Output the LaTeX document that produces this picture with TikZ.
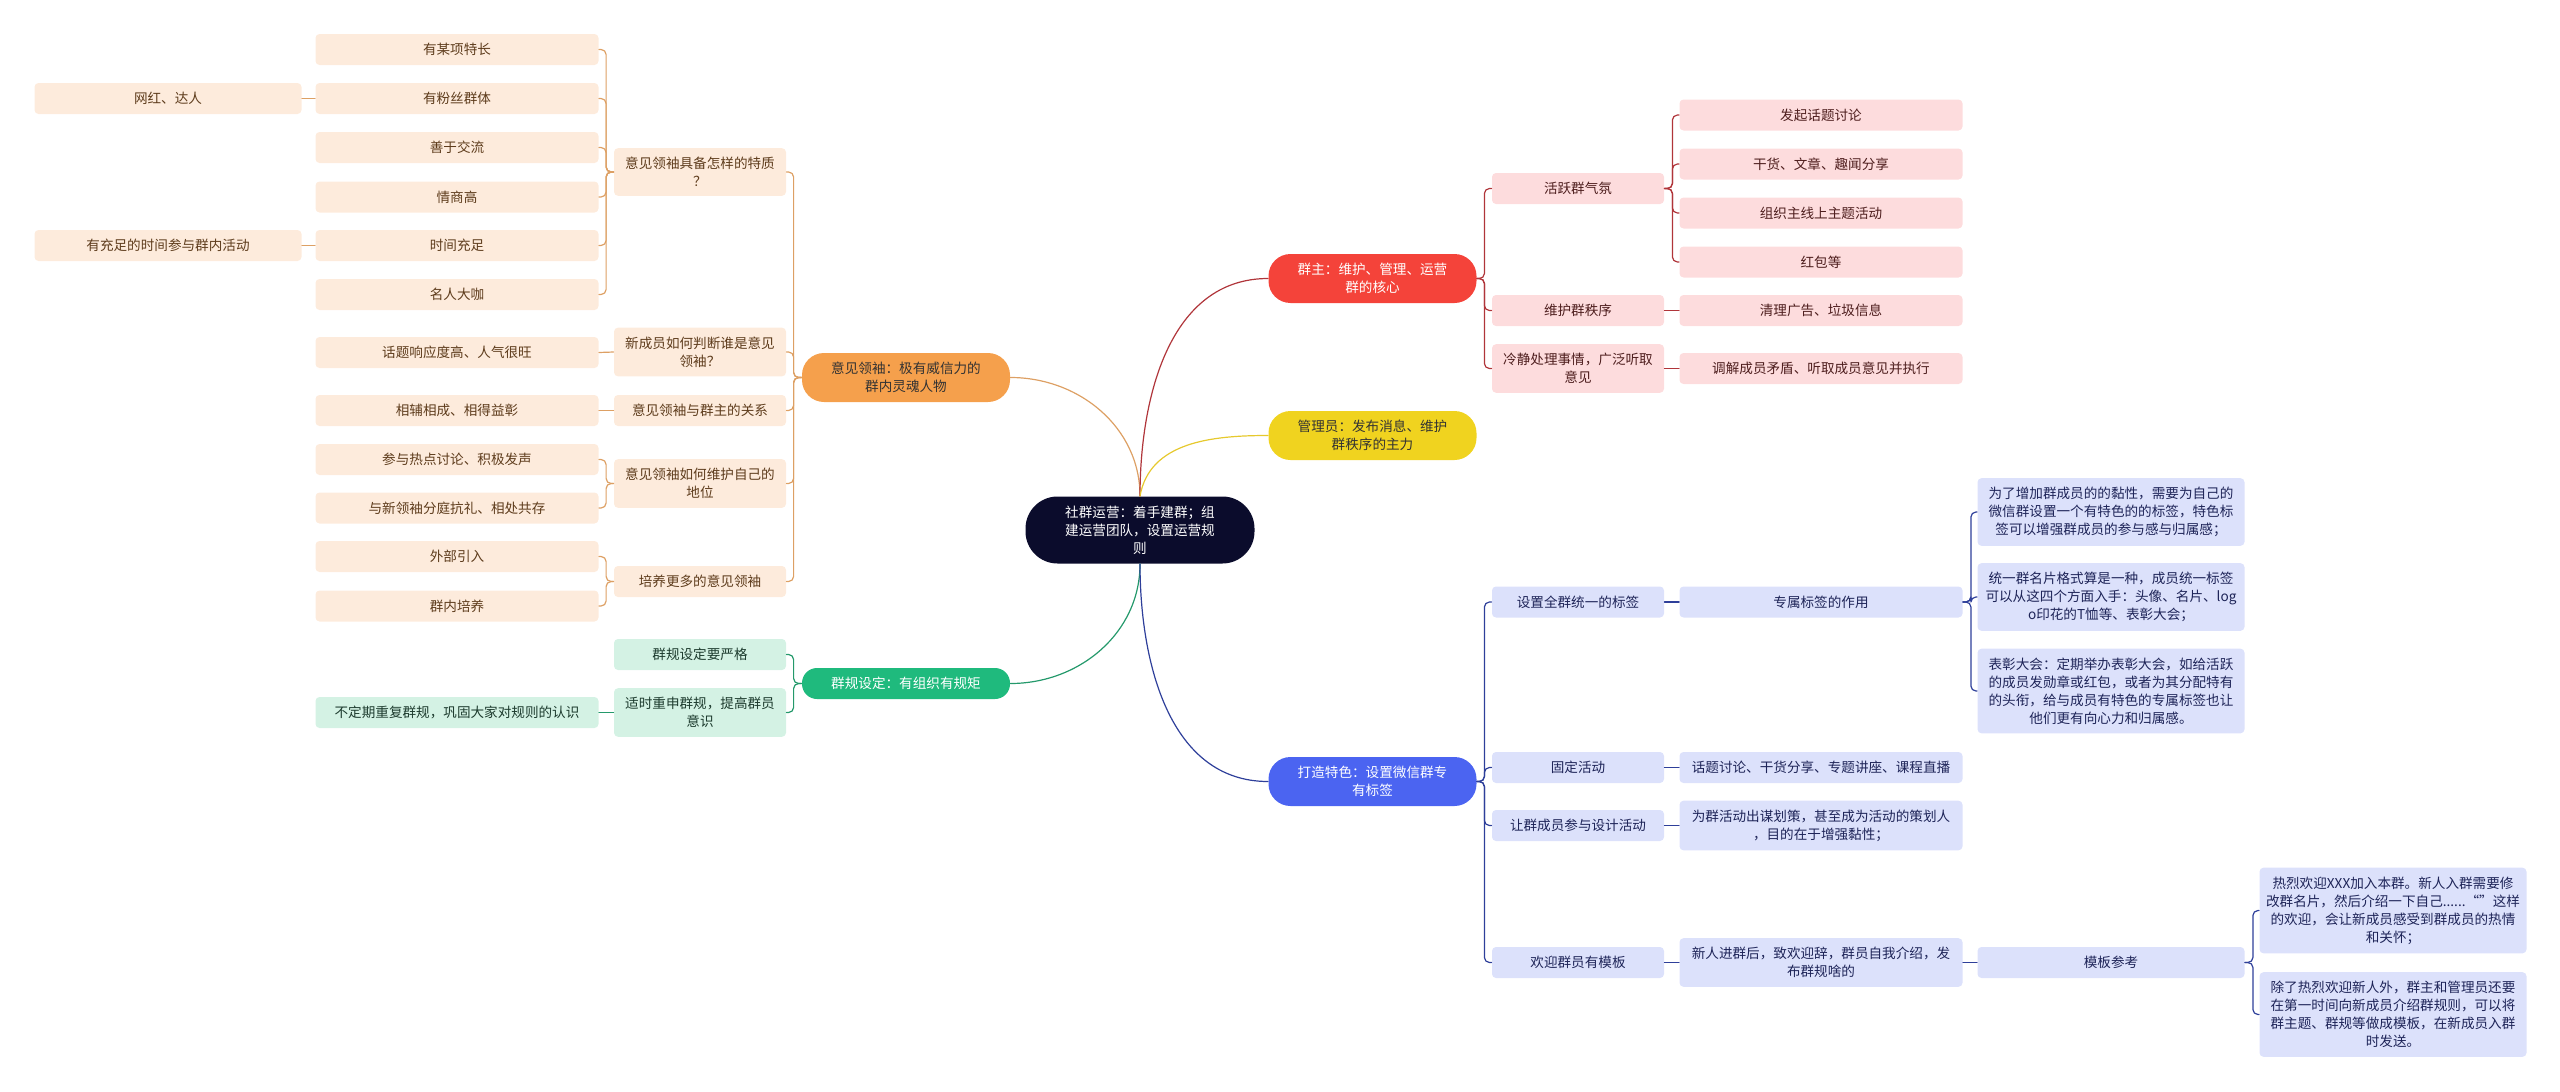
\documentclass[tikz,border=0pt]{standalone}
\usepackage{fontspec}
\setmainfont{Noto Sans CJK SC}
\definecolor{rootc}{HTML}{0B0C2C}
\definecolor{orangec}{HTML}{F5A04C}
\definecolor{orangeln}{HTML}{DDA064}
\definecolor{peachc}{HTML}{FDEBDC}
\definecolor{peachtx}{HTML}{5E3C1C}
\definecolor{greenc}{HTML}{1FBA7D}
\definecolor{greenln}{HTML}{24996B}
\definecolor{mintc}{HTML}{D4F2E4}
\definecolor{minttx}{HTML}{1D3B2E}
\definecolor{redc}{HTML}{F4433A}
\definecolor{redln}{HTML}{B0353A}
\definecolor{rosec}{HTML}{FDDCDD}
\definecolor{rosetx}{HTML}{4E1E1E}
\definecolor{yellowc}{HTML}{F0D31F}
\definecolor{yellowln}{HTML}{E6C92E}
\definecolor{bluec}{HTML}{4B64F1}
\definecolor{blueln}{HTML}{2E3F9A}
\definecolor{lilacc}{HTML}{DCE1FB}
\definecolor{lilactx}{HTML}{1E2458}
\begin{document}
\begin{tikzpicture}[x=0.5pt,y=-0.5pt,line join=round,line cap=round,font=\fontsize{6.8}{9}\selectfont,
  box/.style={rounded corners=2pt,align=center,inner xsep=3pt,inner ysep=4.5pt,minimum height=15.5pt},
  pill/.style={rounded corners=11pt,align=center,minimum width=104pt,minimum height=24.5pt},
  colA/.style={minimum width=133.5pt},
  colB/.style={minimum width=141.5pt},
  colC/.style={minimum width=86pt},
  peach/.style={box,fill=peachc,text=peachtx},
  mint/.style={box,fill=mintc,text=minttx},
  rose/.style={box,fill=rosec,text=rosetx},
  lilac/.style={box,fill=lilacc,text=lilactx},
  lnorange/.style={draw=orangeln,line width=0.6pt,rounded corners=2.5pt},
  lngreen/.style={draw=greenln,line width=0.6pt,rounded corners=2.5pt},
  lnred/.style={draw=redln,line width=0.6pt,rounded corners=2.5pt},
  lnyellow/.style={draw=yellowln,line width=0.6pt},
  lnblue/.style={draw=blueln,line width=0.6pt,rounded corners=2.5pt}]
  \useasboundingbox (0,0) rectangle (2560,1092);
  % centre and main branches
  \node[fill=rootc,text=white,rounded corners=16pt,align=center,minimum width=114.5pt,minimum height=33.5pt] (root) at (1140,530) {社群运营：着手建群；组\\建运营团队，设置运营规\\则};
  \node[pill,fill=orangec,text=black!80] (lead) at (906,377.5) {意见领袖：极有威信力的\\群内灵魂人物};
  \node[pill,fill=greenc,text=white,minimum height=15.5pt,rounded corners=7.5pt] (rules) at (906,683.5) {群规设定：有组织有规矩};
  \node[pill,fill=redc,text=white] (host) at (1372.5,278.5) {群主：维护、管理、运营\\群的核心};
  \node[pill,fill=yellowc,text=black!80] (admin) at (1372.5,435.5) {管理员：发布消息、维护\\群秩序的主力};
  \node[pill,fill=bluec,text=white] (brand) at (1372.5,781.5) {打造特色：设置微信群专\\有标签};
  \draw[lnorange] (root.north) to[out=90,in=0] (lead.east);
  \draw[lngreen] (root.south) to[out=-90,in=0] (rules.east);
  \draw[lnred] (root.north) to[out=90,in=180] (host.west);
  \draw[lnyellow] (root.north) to[out=80,in=180] (admin.west);
  \draw[lnblue] (root.south) to[out=-90,in=180] (brand.west);

  % opinion leaders
  \node[peach,colC] (trait) at (700,172) {意见领袖具备怎样的特质\\？};
  \node[peach,colC] (judge) at (700,352) {新成员如何判断谁是意见\\领袖？};
  \node[peach,colC] (bond) at (700,410.5) {意见领袖与群主的关系};
  \node[peach,colC] (guard) at (700,483.5) {意见领袖如何维护自己的\\地位};
  \node[peach,colC] (grow) at (700,581.5) {培养更多的意见领袖};
  \node[peach,colB] (skill) at (457,49.5) {有某项特长};
  \node[peach,colB] (fans) at (457,98.5) {有粉丝群体};
  \node[peach,colB] (talk) at (457,147.5) {善于交流};
  \node[peach,colB] (eq) at (457,197) {情商高};
  \node[peach,colB] (spare) at (457,245.5) {时间充足};
  \node[peach,colB] (star) at (457,294.5) {名人大咖};
  \node[peach,colB] (hot) at (457,352.5) {话题响应度高、人气很旺};
  \node[peach,colB] (mutual) at (457,410.5) {相辅相成、相得益彰};
  \node[peach,colB] (voice) at (457,459.5) {参与热点讨论、积极发声};
  \node[peach,colB] (coexist) at (457,508) {与新领袖分庭抗礼、相处共存};
  \node[peach,colB] (outside) at (457,556.5) {外部引入};
  \node[peach,colB] (inside) at (457,606) {群内培养};
  \node[peach,colA] (celeb) at (168,98.5) {网红、达人};
  \node[peach,colA] (sparex) at (168,245.5) {有充足的时间参与群内活动};
  \draw[lnorange] (lead.west) -- ++(-8,0) |- (trait.east);
  \draw[lnorange] (lead.west) -- ++(-8,0) |- (judge.east);
  \draw[lnorange] (lead.west) -- ++(-8,0) |- (bond.east);
  \draw[lnorange] (lead.west) -- ++(-8,0) |- (guard.east);
  \draw[lnorange] (lead.west) -- ++(-8,0) |- (grow.east);
  \draw[lnorange] (trait.west) -- ++(-7.5,0) |- (skill.east);
  \draw[lnorange] (trait.west) -- ++(-7.5,0) |- (fans.east);
  \draw[lnorange] (trait.west) -- ++(-7.5,0) |- (talk.east);
  \draw[lnorange] (trait.west) -- ++(-7.5,0) |- (eq.east);
  \draw[lnorange] (trait.west) -- ++(-7.5,0) |- (spare.east);
  \draw[lnorange] (trait.west) -- ++(-7.5,0) |- (star.east);
  \draw[lnorange] (judge.west) -- (hot.east);
  \draw[lnorange] (bond.west) -- (mutual.east);
  \draw[lnorange] (guard.west) -- ++(-7.5,0) |- (voice.east);
  \draw[lnorange] (guard.west) -- ++(-7.5,0) |- (coexist.east);
  \draw[lnorange] (grow.west) -- ++(-7.5,0) |- (outside.east);
  \draw[lnorange] (grow.west) -- ++(-7.5,0) |- (inside.east);
  \draw[lnorange] (fans.west) -- (celeb.east);
  \draw[lnorange] (spare.west) -- (sparex.east);

  % group rules
  \node[mint,colC] (strict) at (700,654.5) {群规设定要严格};
  \node[mint,colC] (remind) at (700,712.5) {适时重申群规，提高群员\\意识};
  \node[mint,colB] (repeat) at (457,712.5) {不定期重复群规，巩固大家对规则的认识};
  \draw[lngreen] (rules.west) -- ++(-8,0) |- (strict.east);
  \draw[lngreen] (rules.west) -- ++(-8,0) |- (remind.east);
  \draw[lngreen] (remind.west) -- (repeat.east);

  % group owner
  \node[rose,colC] (vibe) at (1578,188.5) {活跃群气氛};
  \node[rose,colC] (order) at (1578,310.5) {维护群秩序};
  \node[rose,colC] (calm) at (1578,368.5) {冷静处理事情，广泛听取\\意见};
  \node[rose,colB] (topic) at (1821,115) {发起话题讨论};
  \node[rose,colB] (share) at (1821,164) {干货、文章、趣闻分享};
  \node[rose,colB] (event) at (1821,213) {组织主线上主题活动};
  \node[rose,colB] (packet) at (1821,262) {红包等};
  \node[rose,colB] (clean) at (1821,310.5) {清理广告、垃圾信息};
  \node[rose,colB] (mediate) at (1821,368.5) {调解成员矛盾、听取成员意见并执行};
  \draw[lnred] (host.east) -- ++(7.5,0) |- (vibe.west);
  \draw[lnred] (host.east) -- ++(7.5,0) |- (order.west);
  \draw[lnred] (host.east) -- ++(7.5,0) |- (calm.west);
  \draw[lnred] (vibe.east) -- ++(8,0) |- (topic.west);
  \draw[lnred] (vibe.east) -- ++(8,0) |- (share.west);
  \draw[lnred] (vibe.east) -- ++(8,0) |- (event.west);
  \draw[lnred] (vibe.east) -- ++(8,0) |- (packet.west);
  \draw[lnred] (order.east) -- (clean.west);
  \draw[lnred] (calm.east) -- (mediate.west);

  % group features
  \node[lilac,colC] (tag) at (1578,602) {设置全群统一的标签};
  \node[lilac,colC] (fixed) at (1578,767.5) {固定活动};
  \node[lilac,colC] (codesign) at (1578,825.5) {让群成员参与设计活动};
  \node[lilac,colC] (welcome) at (1578,962.5) {欢迎群员有模板};
  \node[lilac,colB] (tagrole) at (1821,602) {专属标签的作用};
  \node[lilac,colB] (fixedx) at (1821,767.5) {话题讨论、干货分享、专题讲座、课程直播};
  \node[lilac,colB] (codesignx) at (1821,825.5) {为群活动出谋划策，甚至成为活动的策划人\\，目的在于增强黏性；};
  \node[lilac,colB] (intro) at (1821,962.5) {新人进群后，致欢迎辞，群员自我介绍，发\\布群规啥的};
  \node[lilac,colA] (why) at (2111,512) {为了增加群成员的的黏性，需要为自己的\\微信群设置一个有特色的的标签，特色标\\签可以增强群成员的参与感与归属感；};
  \node[lilac,colA] (card) at (2111,597) {统一群名片格式算是一种，成员统一标签\\可以从这四个方面入手：头像、名片、log\\o印花的T恤等、表彰大会；};
  \node[lilac,colA] (award) at (2111,691) {表彰大会：定期举办表彰大会，如给活跃\\的成员发勋章或红包，或者为其分配特有\\的头衔，给与成员有特色的专属标签也让\\他们更有向心力和归属感。};
  \node[lilac,colA] (tmpl) at (2111,962.5) {模板参考};
  \node[lilac,colA] (tmplA) at (2393,910.5) {热烈欢迎XXX加入本群。新人入群需要修\\改群名片，然后介绍一下自己......“”这样\\的欢迎，会让新成员感受到群成员的热情\\和关怀；};
  \node[lilac,colA] (tmplB) at (2393,1014.5) {除了热烈欢迎新人外，群主和管理员还要\\在第一时间向新成员介绍群规则，可以将\\群主题、群规等做成模板，在新成员入群\\时发送。};
  \draw[lnblue] (brand.east) -- ++(7.5,0) |- (tag.west);
  \draw[lnblue] (brand.east) -- ++(7.5,0) |- (fixed.west);
  \draw[lnblue] (brand.east) -- ++(7.5,0) |- (codesign.west);
  \draw[lnblue] (brand.east) -- ++(7.5,0) |- (welcome.west);
  \draw[lnblue] (tag.east) -- (tagrole.west);
  \draw[lnblue] (fixed.east) -- (fixedx.west);
  \draw[lnblue] (codesign.east) -- (codesignx.west);
  \draw[lnblue] (welcome.east) -- (intro.west);
  \draw[lnblue] (intro.east) -- (tmpl.west);
  \draw[lnblue] (tagrole.east) -- ++(8,0) |- (why.west);
  \draw[lnblue] (tagrole.east) -- ++(8,0) |- (card.west);
  \draw[lnblue] (tagrole.east) -- ++(8,0) |- (award.west);
  \draw[lnblue] (tmpl.east) -- ++(8,0) |- (tmplA.west);
  \draw[lnblue] (tmpl.east) -- ++(8,0) |- (tmplB.west);
\end{tikzpicture}
\end{document}
